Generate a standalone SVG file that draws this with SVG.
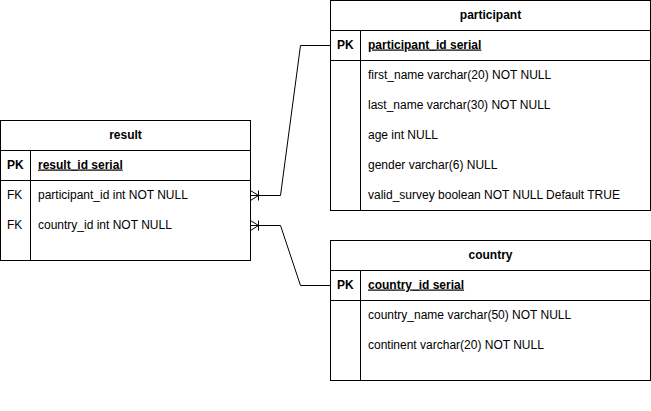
<svg xmlns="http://www.w3.org/2000/svg" width="651" height="411" viewBox="0 0 651 411">
<style>
text{font-family:"Liberation Sans",Arial,sans-serif;font-size:12px;fill:#000}
.h{font-weight:bold;text-anchor:middle}
.k{font-weight:bold}
.u{font-weight:bold;text-decoration:underline}
.b{fill:#fff;stroke:#000;stroke-width:1}
.l{stroke:#000;stroke-width:1;fill:none}
</style>
<rect width="651" height="411" fill="#fff"/>
<g id="result">
<rect class="b" x="0.5" y="120.5" width="250" height="140"/>
<path class="l" d="M0.5 150.5H250.5M0.5 180.5H250.5M30.5 150.5V260.5"/>
<text class="h" x="125.5" y="138.5">result</text>
<text class="k" x="7" y="168.5">PK</text>
<text class="u" x="38" y="168.5">result_id serial</text>
<text x="7" y="198.5">FK</text>
<text x="38" y="198.5">participant_id int NOT NULL</text>
<text x="7" y="228.5">FK</text>
<text x="38" y="228.5">country_id int NOT NULL</text>
</g>
<g id="participant">
<rect class="b" x="330.5" y="0.5" width="320" height="210"/>
<path class="l" d="M330.5 30.5H650.5M330.5 60.5H650.5M360.5 30.5V210.5"/>
<text class="h" x="490.5" y="18.5">participant</text>
<text class="k" x="337" y="48.5">PK</text>
<text class="u" x="368" y="48.5">participant_id serial</text>
<text x="368" y="78.5">first_name varchar(20) NOT NULL</text>
<text x="368" y="108.5">last_name varchar(30) NOT NULL</text>
<text x="368" y="138.5">age int NULL</text>
<text x="368" y="168.5">gender varchar(6) NULL</text>
<text x="368" y="198.5">valid_survey boolean NOT NULL Default TRUE</text>
</g>
<g id="country">
<rect class="b" x="330.5" y="240.5" width="320" height="140"/>
<path class="l" d="M330.5 270.5H650.5M330.5 300.5H650.5M360.5 270.5V380.5"/>
<text class="h" x="490.5" y="258.5">country</text>
<text class="k" x="337" y="288.5">PK</text>
<text class="u" x="368" y="288.5">country_id serial</text>
<text x="368" y="318.5">country_name varchar(50) NOT NULL</text>
<text x="368" y="348.5">continent varchar(20) NOT NULL</text>
</g>
<g id="connectors">
<path class="l" d="M250.5 195.5H280.5L300.5 45.5H330.5"/>
<path class="l" d="M250.5 190.5L258.5 195.5L250.5 200.5M258.5 190.5V200.5"/>
<path class="l" d="M250.5 225.5H280.5L300.5 285.5H330.5"/>
<path class="l" d="M250.5 220.5L258.5 225.5L250.5 230.5M258.5 220.5V230.5"/>
</g>
</svg>
